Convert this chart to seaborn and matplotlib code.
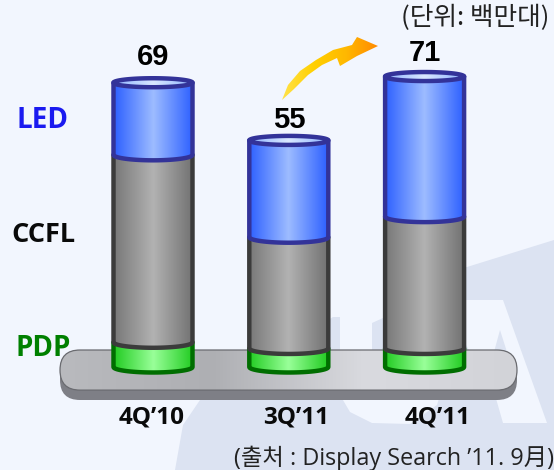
import numpy as np
import matplotlib
matplotlib.use("Agg")
import matplotlib.pyplot as plt
from matplotlib.path import Path
from matplotlib.patches import PathPatch, Polygon, FancyBboxPatch
from matplotlib.colors import LinearSegmentedColormap
import seaborn as sns

# ---- data ----
quarters = ["4Q’10", "3Q’11", "4Q’11"]
pdp = [6.0, 4.5, 4.5]
ccfl = [45.5, 27.0, 32.0]
led = [17.5, 23.5, 34.0]
totals = [69, 55, 71]
series_labels = ["LED", "CCFL", "PDP"]
unit_text = "(단위: 백만대)"
source_text = "(출처 : Display Search ’11. 9月)"

W, H = 554, 470
Y0, PXU = 367.0, 4.12
X0, DX = 153.0, 135.8
BAR_PX = 79.0
BG = "#F2F6FE"
LATIN = ["Open Sans", "Noto Sans CJK KR", "DejaVu Sans"]

sns.set_theme(style="white")
plt.rcParams["font.family"] = ["Noto Sans CJK KR", "DejaVu Sans"]

fig = plt.figure(figsize=(W / 100, H / 100), dpi=100, facecolor=BG)

# pixel-space backdrop
bg = fig.add_axes([0, 0, 1, 1], zorder=0)
bg.set_xlim(0, W); bg.set_ylim(H, 0); bg.axis("off")
wm = "#DCE3F2"
bg.add_patch(Polygon([(175, 470), (183, 425), (200, 400), (250, 370), (333, 317), (340, 317), (340, 350),
                      (372, 350), (372, 323), (383, 318), (383, 270), (467, 267), (554, 240), (554, 470)],
                     closed=True, fc=wm, ec="none"))
bg.add_patch(Polygon([(340, 395), (350, 412), (372, 423), (410, 424), (437, 405), (440, 395)],
                     closed=True, fc=BG, ec="none"))
bg.add_patch(Polygon([(466, 300), (503, 300), (547, 423), (503, 423), (495, 395), (466, 345)],
                     closed=True, fc=BG, ec="none"))
bg.add_patch(Polygon([(500, 330), (507, 352), (494, 352)], closed=True, fc=wm, ec="none"))


def hgrad(ax, stops, extent, clip, z):
    cm = LinearSegmentedColormap.from_list("g", stops)
    im = ax.imshow(np.linspace(0, 1, 256)[None, :], cmap=cm, extent=extent, aspect="auto",
                   zorder=z, interpolation="bilinear")
    im.set_clip_path(clip)
    return im


# platform
bg.add_patch(FancyBboxPatch((80, 370), 417, 10, boxstyle="round,pad=20,rounding_size=20",
                            fc="#7E7F86", ec="none", zorder=1))
plate = FancyBboxPatch((80, 370), 417, 0.1, boxstyle="round,pad=20,rounding_size=20",
                       fc="none", ec="#6A6B70", lw=0.9, zorder=3)
bg.add_patch(plate)
hgrad(bg, ["#B9BABE", "#AEAFB3", "#D9DADF", "#D2D3D8"], (60, 517, 400, 350), plate, 2)
bg.set_xlim(0, W); bg.set_ylim(H, 0)

# golden arrow
a_pts = [(282, 100), (288, 85), (300, 71), (316, 60), (333, 50), (352, 45), (357, 37), (378, 46),
         (357, 56), (340, 66), (337, 58), (322, 65), (308, 75), (294, 89)]
arrow = Polygon(a_pts, closed=True, fc="none", ec="none", zorder=3)
bg.add_patch(arrow)
hgrad(bg, ["#FFE24A", "#FFD000", "#FFB800", "#FF8A00"], (282, 378, 100, 37), arrow, 2)
bg.set_xlim(0, W); bg.set_ylim(H, 0)

# data axes
ax = fig.add_axes([0, 0, 1, 1], zorder=1)
ax.patch.set_alpha(0)
xlim = ((0 - X0) / DX, (W - X0) / DX)
ylim = ((Y0 - H) / PXU, Y0 / PXU)

styles = [
    (pdp, "#33CC33", ["#22CC22", "#99FF99", "#22CC22"], "#006E00"),
    (ccfl, "#999999", ["#787878", "#B2B2B2", "#727272"], "#3B3B3B"),
    (led, "#6699FF", ["#2D60FF", "#9DBCFF", "#2D60FF"], "#333399"),
]
RY = 5.5 / PXU
base = np.zeros(3)
tops = []
for vals, col, stops, edge in styles:
    sns.barplot(x=quarters, y=vals, bottom=base, order=quarters, color=col, saturation=1,
                width=BAR_PX / DX, ax=ax, linewidth=0, zorder=2)
    bars = ax.containers[-1]
    for b in bars:
        x0, w = b.get_x(), b.get_width()
        yb, yt = b.get_y(), b.get_y() + b.get_height()
        b.set_visible(False)
        th = np.linspace(np.pi, 2 * np.pi, 40)
        ex = x0 + w / 2 + w / 2 * np.cos(th)
        ey = yb + RY * np.sin(th)
        verts = [(x0, yt)] + list(zip(ex, ey)) + [(x0 + w, yt), (x0, yt)]
        p = Path(verts, closed=True)
        outline = PathPatch(p, fc="none", ec=edge, lw=3.2, zorder=3.01 + len(tops) * 0.01, joinstyle="round")
        ax.add_patch(outline)
        fill = PathPatch(p, fc="none", ec="none", transform=ax.transData)
        ax.add_patch(fill)
        hgrad(ax, stops, (x0, x0 + w, yb - RY, yt), fill, 3 + len(tops) * 0.01)
        tops.append((x0, w, yt))
    base = base + np.array(vals)

# top ellipses
for x0, w, yt in tops[-3:]:
    th = np.linspace(0, 2 * np.pi, 80)
    ex = x0 + w / 2 + w / 2 * np.cos(th)
    ey = yt + (4.5 / PXU) * np.sin(th)
    p = Path(list(zip(ex, ey)), closed=True)
    clipm = PathPatch(p, fc="none", ec="none")
    ax.add_patch(clipm)
    hgrad(ax, ["#8FB4FF", "#D9E8FF", "#8FB4FF"], (x0, x0 + w, yt - 1.5, yt + 1.5), clipm, 4)
    ax.add_patch(PathPatch(p, fc="none", ec="#333399", lw=3.2, zorder=4.1))

ax.set_xlim(*xlim); ax.set_ylim(*ylim)
ax.axis("off")

# value labels
offs = [26, 20, 21]
for i, t in enumerate(totals):
    ax.annotate(str(t), (i, t), xytext=(0, offs[i] * 0.72), textcoords="offset points", ha="center",
                va="center", fontsize=21, fontweight="bold", family=["Liberation Sans"], color="black")

# category labels
cat_dx = [-1, 7, 13]
for i, q in enumerate(quarters):
    ax.annotate(q, (i, 0), xytext=(cat_dx[i] * 0.72, -(417.5 - Y0) * 0.72), textcoords="offset points", ha="center",
                va="center", fontsize=17.5, fontweight="bold", color="#0A0A0A", family=LATIN)

# series labels
bg.text(42.5, 120, series_labels[0], color="#1A1AF0", fontsize=20, fontweight="bold", ha="center", va="center", family=LATIN)
bg.text(43, 235, series_labels[1], color="#0A0A0A", fontsize=19.5, fontweight="bold", ha="center", va="center", family=LATIN)
bg.text(43, 349, series_labels[2], color="#008000", fontsize=20, fontweight="bold", ha="center", va="center", family=LATIN, zorder=5)

# notes
bg.text(549, 18, unit_text, ha="right", va="center", fontsize=18.5, color="#222222")
bg.text(234, 458, source_text, ha="left", va="center", fontsize=16.8, color="#222222", family=LATIN)

fig.savefig("out.png", dpi=100, facecolor=fig.get_facecolor())
